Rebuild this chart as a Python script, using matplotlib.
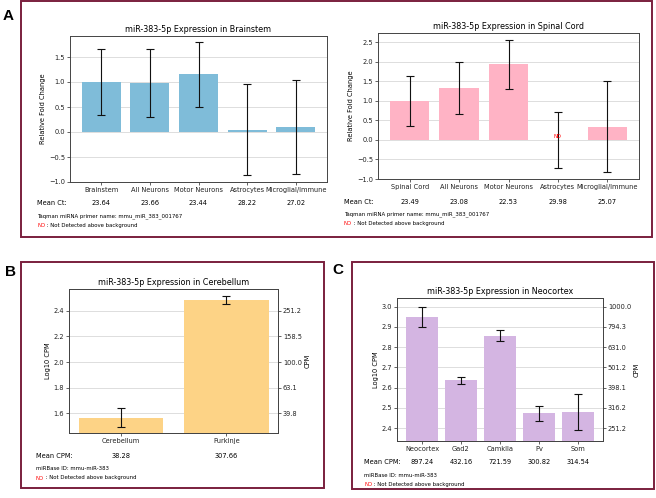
import numpy as np
import matplotlib
matplotlib.use("Agg")
import matplotlib.pyplot as plt
from matplotlib.patches import Rectangle
from matplotlib.transforms import blended_transform_factory

# data
bs_cats = ['Brainstem', 'All Neurons', 'Motor Neurons', 'Astrocytes', 'Microglial/Immune']
bs_vals = [1.0, 0.98, 1.15, 0.04, 0.10]
bs_err = [0.66, 0.68, 0.65, 0.91, 0.94]
bs_ct = ['23.64', '23.66', '23.44', '28.22', '27.02']

sc_cats = ['Spinal Cord', 'All Neurons', 'Motor Neurons', 'Astrocytes', 'Microglial/Immune']
sc_vals = [1.0, 1.33, 1.94, 0.0, 0.34]
sc_err = [0.64, 0.67, 0.63, 0.71, 1.17]
sc_ct = ['23.49', '23.08', '22.53', '29.98', '25.07']
sc_nd = [False, False, False, True, False]

cb_cats = ['Cerebellum', 'Purkinje']
cb_vals = [1.566, 2.483]
cb_err = [0.072, 0.030]
cb_cpm = ['38.28', '307.66']

nc_cats = ['Neocortex', 'Gad2', 'CamkIIa', 'Pv', 'Som']
nc_vals = [2.948, 2.636, 2.857, 2.475, 2.480]
nc_err = [0.050, 0.018, 0.027, 0.037, 0.088]
nc_cpm = ['897.24', '432.16', '721.59', '300.82', '314.54']

W, H = 656, 498
fig = plt.figure(figsize=(W / 100, H / 100), dpi=100)
plt.rcParams['font.family'] = 'DejaVu Sans'

TICK = 4.8
TITLE = 5.8
NOTE = 3.9
SPINE = '#444444'
FRAME = '#7a1f3d'


def fx(x):
    return x / W


def fy(y):
    return 1 - y / H


def add_ax(l, t, r, b):
    return fig.add_axes([fx(l), fy(b), (r - l) / W, (b - t) / H])


def style(ax):
    for s in ax.spines.values():
        s.set_color(SPINE)
        s.set_linewidth(0.7)
    ax.set_axisbelow(True)
    ax.yaxis.grid(True, color='#dddddd', linewidth=0.7)
    ax.tick_params(labelsize=TICK, length=2, width=0.5, pad=1.5, colors='#222222')


def bars(ax, cats, vals, err, color, title, ylabel):
    x = np.arange(len(cats))
    ax.bar(x, vals, width=0.8, color=color, zorder=2)
    ax.errorbar(x, vals, yerr=err, fmt='none', ecolor='#111111', elinewidth=0.8,
                capsize=3.2, capthick=0.8, zorder=3)
    ax.set_xticks(x)
    ax.set_xticklabels(cats)
    ax.set_title(title, fontsize=TITLE, pad=3)
    ax.set_ylabel(ylabel, fontsize=TICK, labelpad=2)
    style(ax)


def row(ax, label, vals, lx, y):
    fig.text(fx(lx), fy(y), label, fontsize=TICK, va='center', ha='left')
    tr = blended_transform_factory(ax.transData, fig.transFigure)
    for i, v in enumerate(vals):
        ax.text(i, fy(y), v, fontsize=TICK, va='center', ha='center', transform=tr)


def notes(ax, first, lx, y1, y2):
    fig.text(fx(lx), fy(y1), first, fontsize=NOTE, va='center', ha='left')
    t = fig.text(fx(lx), fy(y2), 'ND', fontsize=NOTE, va='center', ha='left', color='red')
    ax.annotate(' : Not Detected above background', xy=(1, 0), xycoords=t,
                fontsize=NOTE, va='bottom', ha='left', annotation_clip=False)


def cpm_axis(ax, ticks):
    ax2 = ax.twinx()
    ax2.set_ylim(ax.get_ylim())
    ax2.set_yticks(ticks)
    ax2.set_yticklabels(['%.1f' % (10 ** t) for t in ticks])
    ax2.set_ylabel('CPM', fontsize=TICK, labelpad=2)
    for s in ax2.spines.values():
        s.set_color(SPINE)
        s.set_linewidth(0.7)
    ax2.tick_params(labelsize=TICK, length=2, width=0.5, pad=1.5, colors='#222222')


# frames and panel letters
for (l, t, r, b) in [(21, 1, 652, 237), (21, 262, 324, 488), (352, 262, 654, 489)]:
    fig.add_artist(Rectangle((fx(l), fy(b)), (r - l) / W, (b - t) / H,
                             transform=fig.transFigure, fill=False,
                             edgecolor=FRAME, linewidth=1.4))
for letter, x, y in [('A', 8, 16), ('B', 10, 272), ('C', 338, 270)]:
    fig.text(fx(x), fy(y), letter, fontsize=11, fontweight='bold',
             family='Liberation Sans', ha='center', va='center')

# A - brainstem
ax = add_ax(70, 36, 327, 182)
bars(ax, bs_cats, bs_vals, bs_err, '#7fbcd9', 'miR-383-5p Expression in Brainstem',
     'Relative Fold Change')
ax.set_ylim(-1.0, 1.92)
ax.set_yticks([-1.0, -0.5, 0.0, 0.5, 1.0, 1.5])
row(ax, 'Mean Ct:', bs_ct, 37, 203)
notes(ax, 'Taqman miRNA primer name: mmu_miR_383_001767', 37, 216, 225)

# A - spinal cord
ax = add_ax(378, 33, 639, 179)
bars(ax, sc_cats, sc_vals, sc_err, '#ffb3c5', 'miR-383-5p Expression in Spinal Cord',
     'Relative Fold Change')
ax.set_ylim(-1.0, 2.74)
ax.set_yticks([-1.0, -0.5, 0.0, 0.5, 1.0, 1.5, 2.0, 2.5])
for i, nd in enumerate(sc_nd):
    if nd:
        ax.text(i, 0.1, 'ND', color='red', fontsize=3.8, ha='center', va='center', zorder=4)
row(ax, 'Mean Ct:', sc_ct, 344, 202)
notes(ax, 'Taqman miRNA primer name: mmu_miR_383_001767', 344, 214, 223)

# B - cerebellum
ax = add_ax(69, 289, 278, 433)
bars(ax, cb_cats, cb_vals, cb_err, '#fdd386', 'miR-383-5p Expression in Cerebellum',
     'Log10 CPM')
ax.set_ylim(1.446, 2.57)
b_ticks = [1.6, 1.8, 2.0, 2.2, 2.4]
ax.set_yticks(b_ticks)
cpm_axis(ax, b_ticks)
row(ax, 'Mean CPM:', cb_cpm, 36, 456)
notes(ax, 'miRBase ID: mmu-miR-383', 36, 468, 478)

# C - neocortex
ax = add_ax(397, 298, 603, 441)
bars(ax, nc_cats, nc_vals, nc_err, '#d4b5e2', 'miR-383-5p Expression in Neocortex',
     'Log10 CPM')
ax.set_ylim(2.337, 3.043)
c_ticks = [2.4, 2.5, 2.6, 2.7, 2.8, 2.9, 3.0]
ax.set_yticks(c_ticks)
cpm_axis(ax, c_ticks)
row(ax, 'Mean CPM:', nc_cpm, 364, 462)
notes(ax, 'miRBase ID: mmu-miR-383', 364, 475, 484)

fig.savefig('out.png', dpi=100)
